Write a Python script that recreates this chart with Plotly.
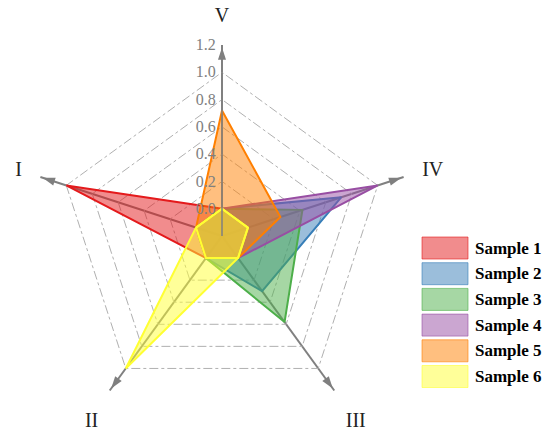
import plotly.graph_objects as go

categories = ["I", "II", "III", "IV", "V"]
sample_names = ["Sample 1", "Sample 2", "Sample 3", "Sample 4", "Sample 5", "Sample 6"]
sample1 = [1.0, 0.0, 0.0, 0.0, 0.0]
sample2 = [0.0, 0.0, 0.30, 0.72, 0.0]
sample3 = [0.0, 0.0, 0.58, 0.42, 0.0]
sample4 = [0.0, 0.0, 0.0, 1.0, 0.0]
sample5 = [0.0, 0.0, 0.0, 0.25, 0.72]
sample6 = [0.0, 1.0, 0.0, 0.0, 0.0]
radial_ticks = [0.0, 0.2, 0.4, 0.6, 0.8, 1.0, 1.2]
radial_min = -0.2

series = [sample1, sample2, sample3, sample4, sample5, sample6]
line_colors = ["228,26,28", "55,126,184", "77,175,74", "152,78,163", "255,127,0", "255,255,51"]

W, H = 550, 432

fig = go.Figure()
for name, vals, c in zip(sample_names, series, line_colors):
    fig.add_trace(go.Scatterpolar(
        r=vals + vals[:1], theta=categories + categories[:1],
        mode="lines", fill="toself", name=name,
        line=dict(color=f"rgb({c})", width=2),
        fillcolor=f"rgba({c},0.5)", showlegend=False,
    ))

# outline of the zero level (in the colour of the last sample)
zero_level = [radial_ticks[0]] * len(categories)
fig.add_trace(go.Scatterpolar(
    r=zero_level + zero_level[:1], theta=categories + categories[:1],
    mode="lines", line=dict(color=f"rgb({line_colors[-1]})", width=2),
    showlegend=False, hoverinfo="skip",
))

# arrowheads at the end of each axis
axis_max = radial_ticks[-1]
arrow_rot = [288, 216, 144, 72, 0]
fig.add_trace(go.Scatterpolar(
    r=[axis_max * 0.985] * len(categories), theta=categories, mode="markers",
    marker=dict(symbol="arrow", size=13, color="#7f7f7f", angle=arrow_rot),
    showlegend=False, hoverinfo="skip",
))

cx, cy, R = 222, 236, 191
gray = "#808080"
fig.update_layout(
    width=W, height=H,
    margin=dict(l=0, r=0, t=0, b=0),
    paper_bgcolor="white", plot_bgcolor="white",
    font=dict(family="Liberation Serif, Times New Roman, serif"),
    polar=dict(
        domain=dict(x=[(cx - R) / W, (cx + R) / W], y=[1 - (cy + R) / H, 1 - (cy - R) / H]),
        bgcolor="white",
        gridshape="linear",
        radialaxis=dict(
            range=[radial_min, axis_max], angle=90, tickvals=radial_ticks,
            tickformat=".1f", showline=True, linecolor=gray, linewidth=1.5,
            gridcolor="#b0b0b0", griddash="dashdot", gridwidth=1,
            ticks="", tickfont=dict(size=16, color=gray), tickangle=90,
            side="counterclockwise",
        ),
        angularaxis=dict(
            type="category", categoryarray=categories,
            direction="counterclockwise", rotation=162,
            showline=False, showgrid=True, gridcolor=gray, gridwidth=1.5,
            ticks="outside", ticklen=15, tickcolor="rgba(0,0,0,0)",
            tickfont=dict(size=20, color="#222222"),
        ),
    ),
)

# legend drawn as boxes + text
box_x0, box_x1 = 422, 468
top, step, h = 237, 25.7, 22
for i, (name, c) in enumerate(zip(sample_names, line_colors)):
    y_top = top + i * step
    fig.add_shape(type="rect", xref="paper", yref="paper",
                  x0=box_x0 / W, x1=box_x1 / W, y0=1 - (y_top + h) / H, y1=1 - y_top / H,
                  fillcolor=f"rgba({c},0.5)", line=dict(color=f"rgba({c},0.6)", width=1))
    fig.add_annotation(xref="paper", yref="paper", x=473 / W, y=1 - (y_top + h / 2) / H,
                       text=f"<b>{name}</b>", showarrow=False, xanchor="left", yanchor="middle",
                       font=dict(size=17, color="black"))

fig.write_html("out.html", config={"displayModeBar": False},
               post_script="document.body.style.margin='0px';")
